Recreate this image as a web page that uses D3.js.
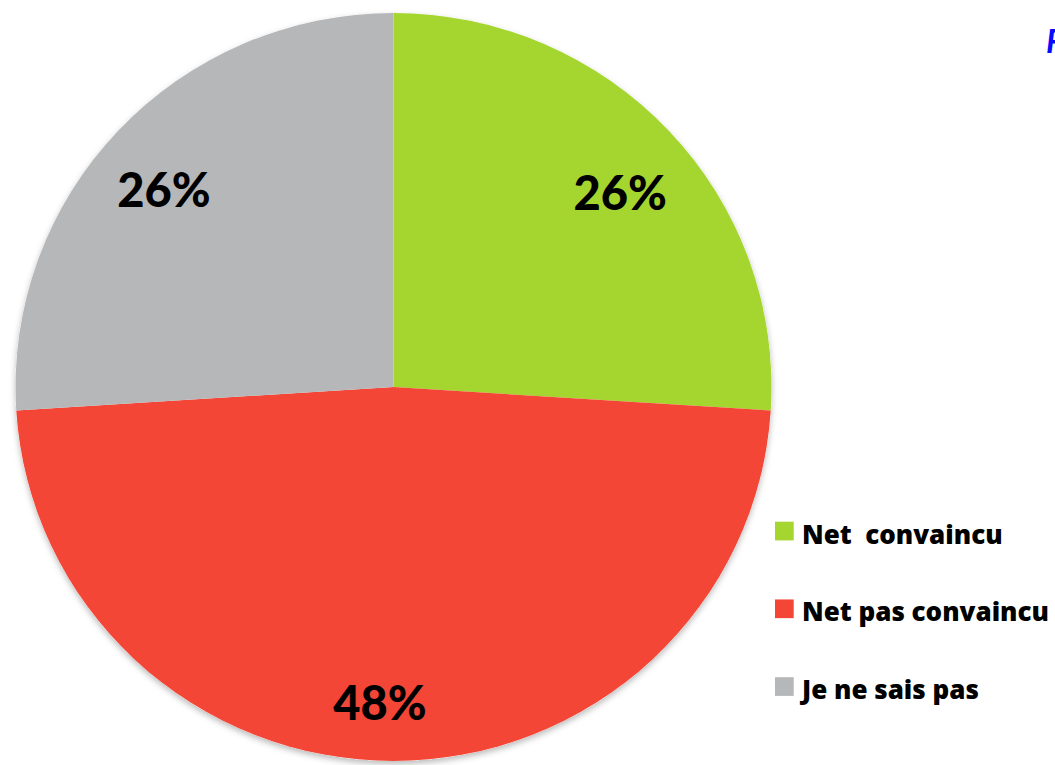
<!DOCTYPE html>
<html><head><meta charset="utf-8">
<script src="https://cdn.jsdelivr.net/npm/d3@7"></script>
<style>html,body{margin:0;padding:0;background:#fff;overflow:hidden}</style>
</head><body>
<svg id="chart" width="1055" height="765"></svg>
<script>
const categories = ["Net  convaincu", "Net pas convaincu", "Je ne sais pas"];
const values = [26, 48, 26];
const valueLabels = ["26%", "48%", "26%"];
const colors = ["#a5d52f", "#f44636", "#b6b7b9"];

const svg = d3.select("#chart");
const defs = svg.append("defs");
const f = defs.append("filter").attr("id","sh").attr("x","-10%").attr("y","-10%").attr("width","120%").attr("height","120%");
f.append("feDropShadow").attr("dx",0).attr("dy",3).attr("stdDeviation",3).attr("flood-color","#000").attr("flood-opacity",0.28);

const cx = 393.5, cy = 387, r = 378, sy = 374/378;
const pie = d3.pie().sort(null).value(d => d);
const arcs = pie(values);
const arc = d3.arc().innerRadius(0).outerRadius(r);

const g = svg.append("g").attr("transform", `translate(${cx},${cy}) scale(1,${sy})`);
g.append("circle").attr("r", r).attr("fill", "#fff").attr("filter","url(#sh)");
g.selectAll("path.slice").data(arcs).join("path")
  .attr("class","slice")
  .attr("d", arc)
  .attr("fill", (d,i) => colors[i]);

// label positions along the slice bisector (slightly nudged like the original)
const labelRadiusFrac = [0.795, 0.842, 0.805];
const labelAngleNudge = [0.038, 0.0425, -0.038];
const labelPos = d => {
  const lr = r * labelRadiusFrac[d.index];
  const a = (d.startAngle + d.endAngle) / 2 + labelAngleNudge[d.index];
  return [cx + lr * Math.sin(a), cy - lr * Math.cos(a) * sy];
};
svg.selectAll("text.val").data(arcs).join("text")
  .attr("class","val")
  .attr("x", d => labelPos(d)[0])
  .attr("y", d => labelPos(d)[1])
  .attr("text-anchor","middle")
  .attr("dominant-baseline","central")
  .attr("font-family","Lato, 'Open Sans', sans-serif")
  .attr("font-weight","900")
  .attr("font-size", 47)
  .attr("fill","#000")
  .text((d,i) => valueLabels[i]);

// legend
const legendY = d3.scalePoint().domain(categories).range([531, 686.5]);
const lg = svg.append("g");
lg.selectAll("rect").data(categories).join("rect")
  .attr("x", 775).attr("y", d => legendY(d) - 9.3)
  .attr("width", 18.7).attr("height", 18.7)
  .attr("fill", (d,i) => colors[i]);
lg.selectAll("text").data(categories).join("text")
  .attr("x", 802).attr("y", d => legendY(d) + 12.5)
  .attr("font-family","'Open Sans', sans-serif")
  .attr("font-weight","800")
  .attr("font-size", 26)
  .attr("fill","#000")
  .attr("xml:space","preserve")
  .style("white-space","pre")
  .text(d => d);

// cut-off title at top right
svg.append("text").attr("x", 1046).attr("y", 53)
  .attr("font-family","Lato, 'Open Sans', sans-serif")
  .attr("font-weight","bold").attr("font-style","italic")
  .attr("font-size", 32).attr("fill","#0a0aff")
  .text("F");
</script>
</body></html>
